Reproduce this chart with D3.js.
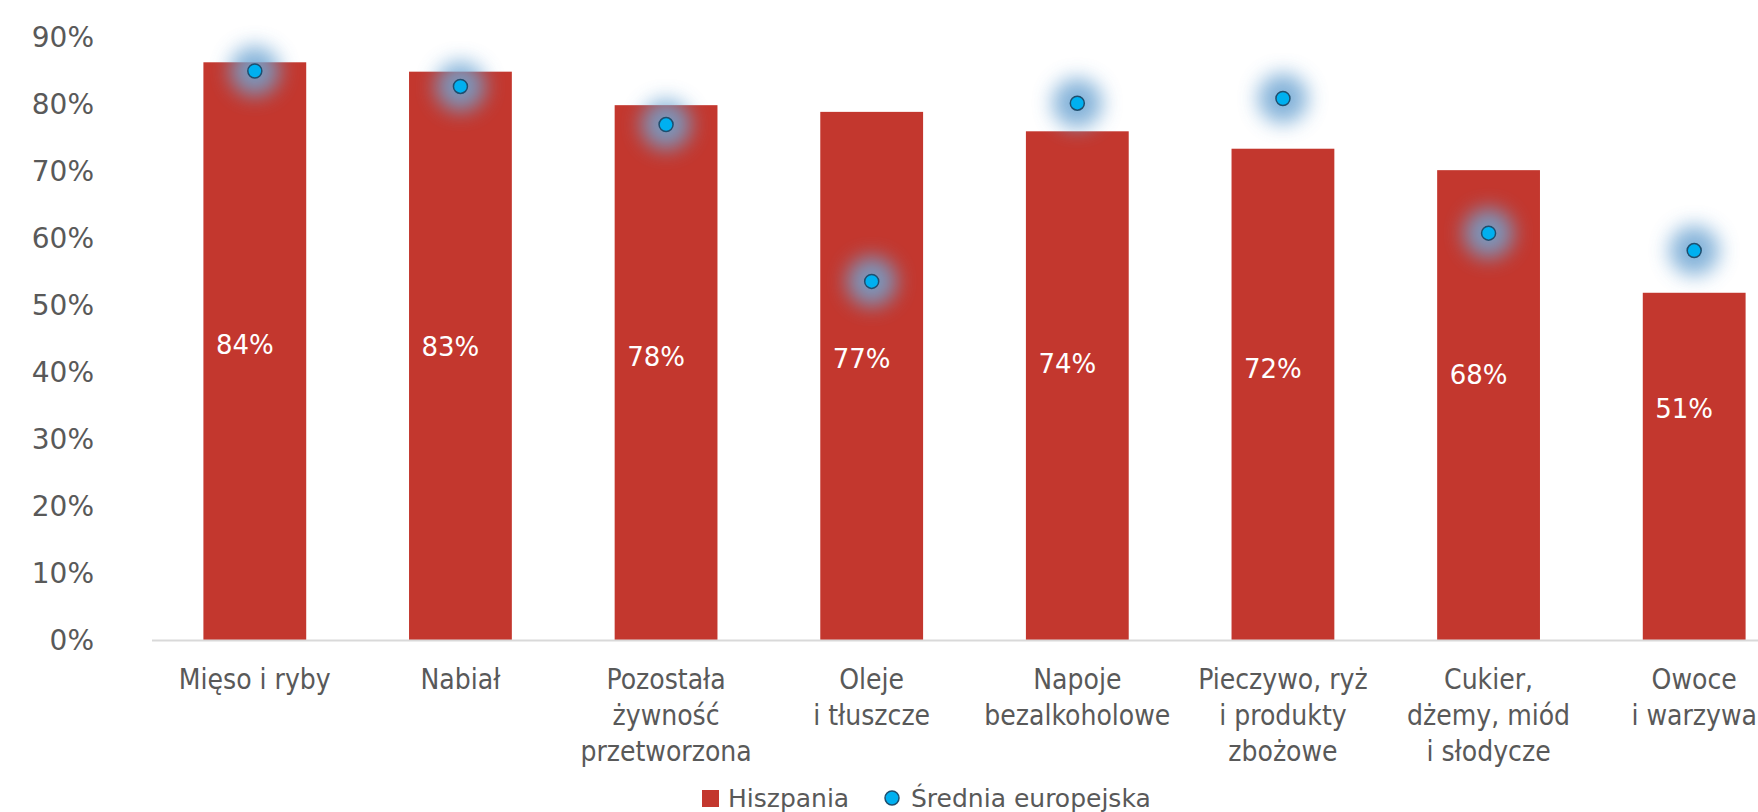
<!DOCTYPE html>
<html>
<head>
<meta charset="utf-8">
<script src="https://cdn.jsdelivr.net/npm/d3@7"></script>
<style>
  body { margin: 0; background: #fff; }
  svg { display: block; }
  .tick text { font-family: "DejaVu Sans", sans-serif; font-size: 28px; fill: #595959; }
  .cat { font-family: "Liberation Sans Narrow", "DejaVu Sans Condensed", sans-serif; font-size: 28px; fill: #595959; }
  .val { font-family: "DejaVu Sans", sans-serif; font-size: 26px; fill: #fff; }
  .legend text { font-family: "DejaVu Sans", sans-serif; font-size: 25px; fill: #595959; }
</style>
</head>
<body>
<svg width="1758" height="812"></svg>
<script>
var kategorie = ["Mięso i ryby", "Nabiał", "Pozostała\nżywność\nprzetworzona", "Oleje\ni tłuszcze",
  "Napoje\nbezalkoholowe", "Pieczywo, ryż\ni produkty\nzbożowe", "Cukier,\ndżemy, miód\ni słodycze", "Owoce\ni warzywa"];
var hiszpania = [86.3, 84.9, 79.9, 78.9, 76.0, 73.4, 70.2, 51.9];
var hiszpaniaEtykiety = [84, 83, 78, 77, 74, 72, 68, 51];
var sredniaEU = [85.0, 82.7, 77.0, 53.6, 80.2, 80.9, 60.8, 58.2];
var yTicks = [0, 10, 20, 30, 40, 50, 60, 70, 80, 90];

var svg = d3.select("svg"),
    plotLeft = 152, plotRight = 1797, plotTop = 37.5, plotBottom = 640.5;

var defs = svg.append("defs");
defs.append("filter")
    .attr("id", "glow")
    .attr("x", "-100%").attr("y", "-100%")
    .attr("width", "300%").attr("height", "300%")
  .append("feGaussianBlur")
    .attr("stdDeviation", 10);

var x = d3.scaleBand()
    .domain(kategorie)
    .range([plotLeft, plotRight])
    .paddingInner(0.5)
    .paddingOuter(0.25);

var y = d3.scaleLinear()
    .domain([0, 90])
    .range([plotBottom, plotTop]);

// y axis, no line, no ticks
var yAxis = svg.append("g")
    .attr("transform", "translate(94,0)")
    .call(d3.axisLeft(y).tickValues(yTicks).tickSize(0).tickPadding(0)
      .tickFormat(function(d) { return d + "%"; }));
yAxis.select(".domain").remove();

// bars
svg.selectAll(".bar")
  .data(hiszpania)
  .enter().append("rect")
    .attr("class", "bar")
    .attr("x", function(d, i) { return x(kategorie[i]); })
    .attr("y", function(d) { return y(d); })
    .attr("width", x.bandwidth())
    .attr("height", function(d) { return y(0) - y(d); })
    .attr("fill", "#c3372e");

// baseline
svg.append("line")
    .attr("x1", plotLeft).attr("x2", 1758)
    .attr("y1", y(0)).attr("y2", y(0))
    .attr("stroke", "#d9d9d9")
    .attr("stroke-width", 2);

// value labels
svg.selectAll(".val")
  .data(hiszpaniaEtykiety)
  .enter().append("text")
    .attr("class", "val")
    .attr("text-anchor", "middle")
    .attr("dy", "0.35em")
    .attr("x", function(d, i) { return x(kategorie[i]) + x.bandwidth() / 2 - 10; })
    .attr("y", function(d, i) { return y(0.28 * hiszpania[i] + 20); })
    .text(function(d) { return d + "%"; });

// glow behind dots
svg.selectAll(".glow")
  .data(sredniaEU)
  .enter().append("circle")
    .attr("class", "glow")
    .attr("cx", function(d, i) { return x(kategorie[i]) + x.bandwidth() / 2; })
    .attr("cy", function(d) { return y(d); })
    .attr("r", 25)
    .attr("fill", "#6fa6d3")
    .attr("opacity", 0.85)
    .attr("filter", "url(#glow)");

svg.selectAll(".dot")
  .data(sredniaEU)
  .enter().append("circle")
    .attr("class", "dot")
    .attr("cx", function(d, i) { return x(kategorie[i]) + x.bandwidth() / 2; })
    .attr("cy", function(d) { return y(d); })
    .attr("r", 7)
    .attr("fill", "#00b0f0")
    .attr("stroke", "#1f4e6e")
    .attr("stroke-width", 1.5);

// category labels
var cat = svg.selectAll(".cat")
  .data(kategorie)
  .enter().append("text")
    .attr("class", "cat")
    .attr("text-anchor", "middle")
    .attr("x", function(d) { return x(d) + x.bandwidth() / 2; })
    .attr("y", 689);
cat.selectAll("tspan")
  .data(function(d) { return d.split("\n"); })
  .enter().append("tspan")
    .attr("x", function() { return d3.select(this.parentNode).attr("x"); })
    .attr("dy", function(d, i) { return i ? 36 : 0; })
    .text(function(d) { return d; });

// legend
var legend = svg.append("g").attr("class", "legend");
legend.append("rect")
    .attr("x", 702).attr("y", 790)
    .attr("width", 17).attr("height", 17)
    .attr("fill", "#c3372e");
legend.append("text")
    .attr("x", 728).attr("y", 807)
    .text("Hiszpania");
legend.append("circle")
    .attr("cx", 892).attr("cy", 798)
    .attr("r", 7)
    .attr("fill", "#00b0f0")
    .attr("stroke", "#1f4e6e")
    .attr("stroke-width", 1.5);
legend.append("text")
    .attr("x", 911).attr("y", 807)
    .text("Średnia europejska");
</script>
</body>
</html>
